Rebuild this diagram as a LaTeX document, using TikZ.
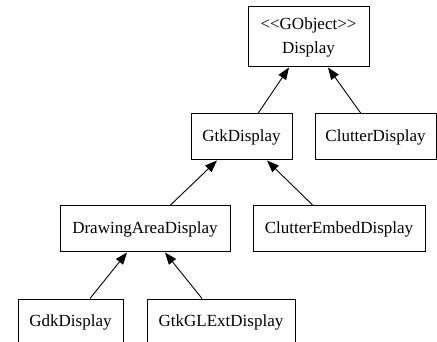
\documentclass[tikz,border=0pt]{standalone}
\usepackage{fontspec}
\setmainfont{Liberation Serif}
\usetikzlibrary{arrows.meta}

\tikzset{
	classbox/.style={draw, line width=1pt, inner sep=0pt, align=center,
		font=\fontsize{17}{24}\selectfont},
	inherit/.style={line width=0.9pt, -{Triangle[length=12pt, width=9pt]}},
}

\begin{document}
\begin{tikzpicture}[x=1pt, y=-1pt]

% frame %{{{2

	\useasboundingbox (0,0) rectangle (437,342);
	\clip (0,0) rectangle (437,342);

% classes %{{{2

	\node[classbox, minimum width=121pt, minimum height=60pt] (display)
		at (308.5,37) {<\kern0pt<GObject>\kern0pt>\\Display};

	\node[classbox, minimum width=101pt, minimum height=46pt] (gtkdisplay)
		at (241.5,137) {GtkDisplay};
	\node[classbox, minimum width=121pt, minimum height=46pt] (clutterdisplay)
		at (375.5,137) {ClutterDisplay};

	\node[classbox, minimum width=170pt, minimum height=46pt] (drawingarea)
		at (145,229) {DrawingAreaDisplay};
	\node[classbox, minimum width=172pt, minimum height=46pt] (clutterembed)
		at (339,229) {ClutterEmbedDisplay};

	\node[classbox, minimum width=105pt, minimum height=46pt] (gdkdisplay)
		at (70.5,322) {GdkDisplay};
	\node[classbox, minimum width=148pt, minimum height=46pt] (gtkglext)
		at (221,322) {GtkGLExtDisplay};

% inheritance arrows %{{{2

	\draw[inherit] ([xshift=16.5pt]gtkdisplay.north) -- ([xshift=-19.5pt]display.south);
	\draw[inherit] ([xshift=-14.5pt]clutterdisplay.north) -- ([xshift=19.5pt]display.south);

	\draw[inherit] ([xshift=25pt]drawingarea.north) -- ([xshift=-24.5pt]gtkdisplay.south);
	\draw[inherit] ([xshift=-26pt]clutterembed.north) -- ([xshift=25.5pt]gtkdisplay.south);

	\draw[inherit] ([xshift=19.5pt]gdkdisplay.north) -- ([xshift=-18pt]drawingarea.south);
	\draw[inherit] ([xshift=-19pt]gtkglext.north) -- ([xshift=20pt]drawingarea.south);

% closing %{{{2

\end{tikzpicture}
\end{document}
